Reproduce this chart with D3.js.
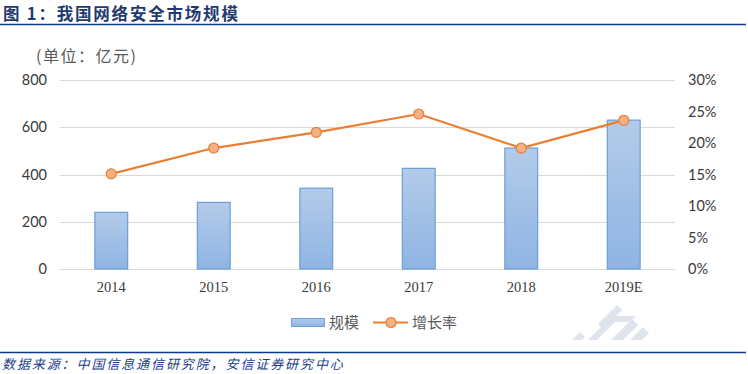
<!DOCTYPE html>
<html>
<head>
<meta charset="utf-8">
<script src="https://cdn.jsdelivr.net/npm/d3@7"></script>
<style>
  body { margin: 0; background: #fff; }
  svg { display: block; }
</style>
</head>
<body>
<svg id="chart" width="748" height="374"></svg>
<script>
// data
const years = ['2014', '2015', '2016', '2017', '2018', '2019E'];
const scale = [240, 282, 342, 426, 512, 630]; // 亿元
const growth = [15.1, 19.2, 21.7, 24.6, 19.2, 23.6]; // %
const leftTicks = [0, 200, 400, 600, 800];
const rightTicks = [0, 5, 10, 15, 20, 25, 30];

const svg = d3.select('#chart');
const navy = '#0b3a8a';

// title + rules
svg.append('text')
  .text('图 1：我国网络安全市场规模')
  .attr('x', 3).attr('y', 19.5)
  .style('font-family', '"Noto Sans CJK SC"')
  .style('font-size', '16.5px')
  .style('font-weight', '700')
  .style('letter-spacing', '1.8px')
  .style('fill', '#1f3a70');

svg.append('line').attr('x1', 0).attr('x2', 746).attr('y1', 24.5).attr('y2', 24.5)
  .style('stroke', navy).style('stroke-width', 1.5);
svg.append('line').attr('x1', 0).attr('x2', 746).attr('y1', 352.5).attr('y2', 352.5)
  .style('stroke', navy).style('stroke-width', 1.5);

svg.append('text')
  .text('数据来源：中国信息通信研究院，安信证券研究中心')
  .attr('x', 2).attr('y', 369)
  .style('font-family', '"Noto Sans CJK SC"')
  .style('font-size', '13px')
  .style('font-style', 'italic')
  .style('letter-spacing', '1.9px')
  .style('fill', '#1a3c8c');

// unit label
svg.append('text')
  .text('(单位：亿元)')
  .attr('x', 36).attr('y', 62)
  .style('font-family', '"Noto Sans CJK SC"')
  .style('font-size', '16px')
  .style('letter-spacing', '1.5px')
  .style('fill', '#595959');

// watermark
const wm = svg.append('g').style('fill', '#dfe3eb');
wm.append('path').attr('d', 'M598,324 L617,305 L622,310 L603,329 Z');
wm.append('path').attr('d', 'M588,340 L612,316 L636,316 L630,322 L615,322 L597,340 Z');
wm.append('path').attr('d', 'M611,340 L632,319 L638,325 L623,340 Z');
wm.append('path').attr('d', 'M630,340 L643,327 L649,333 L642,340 Z');
wm.append('path').attr('d', 'M572,340 L580,332 L585,337 L582,340 Z');

// scales
const x = d3.scaleBand().domain(years).range([60, 675]);
const yL = d3.scaleLinear().domain([0, 800]).range([269, 80]);
const yR = d3.scaleLinear().domain([0, 30]).range([269, 80]);
const barW = x.bandwidth() * 0.32;

// gridlines
svg.append('g')
  .selectAll('line')
  .data(leftTicks)
  .join('line')
  .attr('x1', 60).attr('x2', 675)
  .attr('y1', d => Math.round(yL(d)) + 0.5)
  .attr('y2', d => Math.round(yL(d)) + 0.5)
  .style('stroke', '#d9d9d9')
  .style('stroke-width', 1.2);

// left axis labels
svg.append('g')
  .selectAll('text')
  .data(leftTicks)
  .join('text')
  .text(d => d)
  .attr('x', 47)
  .attr('y', d => yL(d) + 5)
  .attr('text-anchor', 'end')
  .style('font-family', 'Lato, "Liberation Sans"')
  .style('font-size', '14.5px')
  .style('fill', '#3a3a3a');

// right axis labels
svg.append('g')
  .selectAll('text')
  .data(rightTicks)
  .join('text')
  .text(d => d + '%')
  .attr('x', 688)
  .attr('y', d => yR(d) + 5)
  .style('font-family', 'Lato, "Liberation Sans"')
  .style('font-size', '14.5px')
  .style('fill', '#3a3a3a');

// x labels
svg.append('g')
  .selectAll('text')
  .data(years)
  .join('text')
  .text(d => d)
  .attr('x', d => x(d) + x.bandwidth() / 2)
  .attr('y', 292)
  .attr('text-anchor', 'middle')
  .style('font-family', '"Liberation Serif"')
  .style('font-size', '14.5px')
  .style('fill', '#3a3a3a');

// bar gradient
const defs = svg.append('defs');
const grad = defs.append('linearGradient').attr('id', 'barGrad')
  .attr('x1', 0).attr('x2', 0).attr('y1', 0).attr('y2', 1);
grad.append('stop').attr('offset', '0%').attr('stop-color', '#b3cbe9');
grad.append('stop').attr('offset', '100%').attr('stop-color', '#8fb4e3');

// bars
svg.append('g')
  .selectAll('rect')
  .data(years)
  .join('rect')
  .attr('x', d => x(d) + x.bandwidth() / 2 - barW / 2)
  .attr('y', (d, i) => yL(scale[i]))
  .attr('width', barW)
  .attr('height', (d, i) => yL(0) - yL(scale[i]))
  .style('fill', 'url(#barGrad)')
  .style('stroke', '#6a9fd8')
  .style('stroke-width', 1.2);

// growth line
const line = d3.line()
  .x((d, i) => x(years[i]) + x.bandwidth() / 2)
  .y(d => yR(d));

svg.append('path')
  .datum(growth)
  .attr('d', line)
  .style('fill', 'none')
  .style('stroke', '#ed7d31')
  .style('stroke-width', 2.2);

svg.append('g')
  .selectAll('circle')
  .data(growth)
  .join('circle')
  .attr('cx', (d, i) => x(years[i]) + x.bandwidth() / 2)
  .attr('cy', d => yR(d))
  .attr('r', 5)
  .style('fill', '#f4b183')
  .style('stroke', '#ed7d31')
  .style('stroke-width', 1.2);

// legend
const lg = svg.append('g');
lg.append('rect')
  .attr('x', 291.5).attr('y', 318.5).attr('width', 33).attr('height', 8)
  .style('fill', 'url(#barGrad)').style('stroke', '#6a9fd8');
lg.append('text').text('规模')
  .attr('x', 329).attr('y', 328)
  .style('font-family', '"Noto Sans CJK SC"')
  .style('font-size', '15px')
  .style('fill', '#595959');
lg.append('line')
  .attr('x1', 373).attr('x2', 408).attr('y1', 322.5).attr('y2', 322.5)
  .style('stroke', '#ed7d31').style('stroke-width', 2.2);
lg.append('circle')
  .attr('cx', 391).attr('cy', 322.5).attr('r', 5)
  .style('fill', '#f4b183').style('stroke', '#ed7d31').style('stroke-width', 1.2);
lg.append('text').text('增长率')
  .attr('x', 412).attr('y', 328)
  .style('font-family', '"Noto Sans CJK SC"')
  .style('font-size', '15px')
  .style('fill', '#595959');
</script>
</body>
</html>
